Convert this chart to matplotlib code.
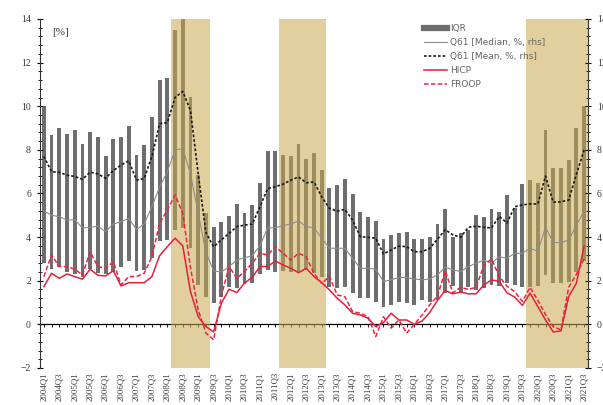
import numpy as np
import matplotlib
matplotlib.use("Agg")
import matplotlib.pyplot as plt
from matplotlib.lines import Line2D
from matplotlib.ticker import MultipleLocator

# quarters 2004Q1 .. 2021Q3
quarters = [f"{2004 + i // 4}Q{i % 4 + 1}" for i in range(71)]

iqr_top = [10.0, 8.7, 8.98, 8.75, 8.93, 8.25, 8.81, 8.57, 7.71, 8.52,
           8.57, 9.08, 7.77, 8.23, 9.51, 11.19, 11.3, 13.5, 14.5, 10.43,
           6.84, 5.09, 4.48, 4.7, 4.97, 5.51, 5.09, 5.47, 6.49, 7.95,
           7.95, 7.76, 7.71, 8.26, 7.56, 7.86, 7.07, 6.23, 6.38, 6.66,
           5.97, 5.16, 4.91, 4.75, 3.9, 4.1, 4.2, 4.25, 3.9, 3.9,
           4.02, 4.59, 5.3, 3.99, 4.17, 4.32, 5.01, 4.93, 5.27, 5.16,
           5.93, 5.32, 6.42, 6.61, 6.46, 8.93, 7.15, 7.15, 7.53, 9.02, 10.0]
iqr_bottom = [2.8, 2.53, 2.65, 2.42, 2.31, 2.19, 2.53, 2.35, 2.31, 2.42,
              2.62, 2.9, 2.45, 2.5, 3.05, 3.8, 3.85, 4.32, 4.4, 3.49,
              1.81, 1.27, 1.0, 1.27, 1.73, 1.66, 1.85, 1.91, 2.31, 2.49,
              2.42, 2.46, 2.38, 2.42, 2.49, 2.35, 2.19, 1.73, 1.66, 1.73,
              1.43, 1.2, 1.2, 1.04, 0.79, 0.89, 1.04, 0.97, 0.89, 1.12,
              1.04, 1.12, 1.43, 1.76, 1.5, 1.73, 1.58, 1.66, 1.81, 1.76,
              1.89, 1.81, 1.7, 1.7, 1.76, 2.27, 1.89, 1.89, 1.96, 2.4, 2.9]
q61_median = [5.2, 5.0, 4.94, 4.78, 4.8, 4.42, 4.45, 4.5, 4.25, 4.6,
              4.7, 4.86, 4.35, 4.6, 5.4, 6.3, 7.0, 8.0, 8.05, 6.9,
              5.1, 3.3, 2.45, 2.4, 2.65, 2.95, 3.05, 3.15, 3.6, 4.43,
              4.43, 4.53, 4.6, 4.74, 4.48, 4.43, 3.95, 3.49, 3.49, 3.49,
              3.03, 2.57, 2.57, 2.53, 1.96, 2.04, 2.15, 2.15, 2.08, 2.04,
              2.08, 2.27, 2.62, 2.5, 2.42, 2.65, 2.8, 2.95, 2.8, 3.1,
              3.03, 3.26, 3.26, 3.49, 3.35, 4.45, 3.75, 3.75, 3.86, 4.55, 5.2]
q61_mean = [7.7, 7.0, 6.97, 6.84, 6.78, 6.65, 6.98, 6.9, 6.7, 7.05,
            7.3, 7.5, 6.62, 6.68, 7.7, 9.2, 9.25, 10.4, 10.68, 9.8,
            6.9, 4.2, 3.56, 3.87, 4.17, 4.48, 4.55, 4.6, 5.39, 6.23,
            6.31, 6.43, 6.61, 6.76, 6.49, 6.53, 5.85, 5.32, 5.19, 5.27,
            4.78, 4.02, 3.99, 3.95, 3.23, 3.41, 3.59, 3.56, 3.33, 3.33,
            3.49, 3.9, 4.34, 4.1, 4.0, 4.45, 4.5, 4.45, 4.42, 4.95,
            4.65, 5.39, 5.48, 5.52, 5.52, 6.8, 5.6, 5.62, 5.7, 6.88, 8.0]
hicp = [1.73, 2.34, 2.11, 2.31, 2.19, 2.07, 2.53, 2.25, 2.22, 2.46,
        1.76, 1.91, 1.91, 1.91, 2.19, 3.15, 3.56, 3.95, 3.6, 1.5,
        0.35, -0.1, -0.35, 0.97, 1.61, 1.46, 1.89, 2.16, 2.65, 2.65,
        2.91, 2.72, 2.57, 2.37, 2.57, 2.19, 1.91, 1.58, 1.2, 0.89,
        0.51, 0.43, 0.28, -0.1, 0.08, 0.51, 0.2, 0.2, 0.0, 0.15,
        0.55, 1.1, 1.55, 1.4, 1.48, 1.4, 1.4, 1.8, 2.04, 1.97,
        1.45, 1.25, 0.87, 1.43, 0.82, 0.2, -0.35, -0.3, 1.27, 1.89, 3.6]
froop = [2.19, 3.18, 2.65, 2.65, 2.53, 2.27, 3.33, 2.65, 2.57, 2.87,
         1.81, 2.19, 2.19, 2.34, 3.1, 4.63, 5.24, 5.93, 5.1, 2.6,
         0.66, -0.4, -0.71, 1.3, 2.65, 2.11, 2.42, 2.8, 3.26, 3.18,
         3.56, 3.26, 2.95, 3.26, 3.1, 2.34, 1.88, 2.19, 1.35, 1.27,
         0.59, 0.51, 0.35, -0.56, 0.35, -0.17, 0.2, -0.4, 0.0, 0.43,
         0.9, 1.3, 2.45, 1.45, 1.7, 1.6, 1.7, 2.7, 3.0, 2.2,
         1.75, 1.5, 1.05, 1.7, 1.1, 0.45, -0.1, -0.25, 1.7, 2.3, 3.0]

# shaded periods (first and last quarter)
rec_start = ["2008Q2", "2011Q4", "2019Q4"]
rec_end = ["2009Q2", "2013Q1", "2021Q3"]

x = np.arange(len(quarters))
serif = "Liberation Serif"
tcol = "#3a3a3a"

fig = plt.figure(figsize=(6.03, 4.05), dpi=100)
ax = fig.add_axes([0.0663, 0.0914, 0.9088, 0.8617])

# IQR bars
ax.bar(x, np.array(iqr_top) - np.array(iqr_bottom), bottom=iqr_bottom,
       width=0.5, color="#6e6e6e", zorder=1)

# shading on top of the bars
for s, e in zip(rec_start, rec_end):
    ax.axvspan(quarters.index(s) - 0.5, quarters.index(e) + 0.5,
               color="#c9a94f", alpha=0.55, lw=0, zorder=2)

ax.plot(x, q61_median, color="#8c8c8c", lw=0.8, zorder=3)
ax.plot(x, q61_mean, color="#1a1a1a", lw=1.2, ls=(0, (1.6, 1.2)), zorder=3)
ax.plot(x, hicp, color="#e3213b", lw=1.1, zorder=4)
ax.plot(x, froop, color="#ee2244", lw=1.1, ls=(0, (3, 1.5)), zorder=4)

ax.set_xlim(-0.5, len(quarters) - 0.5)
ax.set_ylim(-2, 14)

# zero line with quarter ticks
zero_ax = ax.secondary_xaxis(2 / 16)
zero_ax.set_xticks(x)
zero_ax.set_xticklabels([])
zero_ax.tick_params(length=2.5, width=0.7, color="#222222")
zero_ax.spines["bottom"].set_linewidth(0.9)

# bottom labels
ax.set_xticks(x[::2])
ax.set_xticklabels(quarters[::2], rotation=90, fontsize=6.3,
                   family=serif, color=tcol)
ax.tick_params(axis="x", length=0, pad=3)
for side in ["top", "bottom", "right"]:
    ax.spines[side].set_visible(False)
ax.spines["left"].set_color("#333333")
ax.spines["left"].set_linewidth(0.8)

ax.yaxis.set_major_locator(MultipleLocator(2))
ax.yaxis.set_minor_locator(MultipleLocator(0.4))
ax.tick_params(axis="y", which="major", direction="inout", length=5,
               width=0.8, labelsize=7, labelcolor=tcol, pad=4)
ax.tick_params(axis="y", which="minor", direction="inout", length=3,
               width=0.6)
for lab in ax.get_yticklabels():
    lab.set_family(serif)

ax2 = ax.twinx()
ax2.set_ylim(-2, 14)
ax2.yaxis.set_major_locator(MultipleLocator(2))
ax2.yaxis.set_minor_locator(MultipleLocator(0.4))
ax2.tick_params(axis="y", which="major", direction="inout", length=5,
                width=0.8, labelsize=7, labelcolor=tcol, pad=4)
ax2.tick_params(axis="y", which="minor", direction="inout", length=3,
                width=0.6)
for lab in ax2.get_yticklabels():
    lab.set_family(serif)
for side in ["top", "bottom", "left"]:
    ax2.spines[side].set_visible(False)
ax2.spines["right"].set_color("#333333")
ax2.spines["right"].set_linewidth(0.8)

ax.text(0.022, 0.975, "[%]", transform=ax.transAxes, fontsize=8,
        family=serif, color=tcol, va="top")

handles = [
    Line2D([], [], color="#6e6e6e", lw=4.5),
    Line2D([], [], color="#8c8c8c", lw=0.8),
    Line2D([], [], color="#1a1a1a", lw=1.2, ls=(0, (1.6, 1.2))),
    Line2D([], [], color="#e3213b", lw=1.1),
    Line2D([], [], color="#ee2244", lw=1.1, ls=(0, (3, 1.5))),
]
labels = ["IQR", "Q61 [Median, %, rhs]", "Q61 [Mean, %, rhs]", "HICP", "FROOP"]
leg = ax2.legend(handles, labels, loc="upper left", bbox_to_anchor=(0.69, 1.0),
                 frameon=False, fontsize=6.5, handlelength=2.6,
                 handletextpad=0.3, labelspacing=0.55, borderaxespad=0.2)
for t in leg.get_texts():
    t.set_color("#666666")

fig.savefig("out.png", dpi=100)
